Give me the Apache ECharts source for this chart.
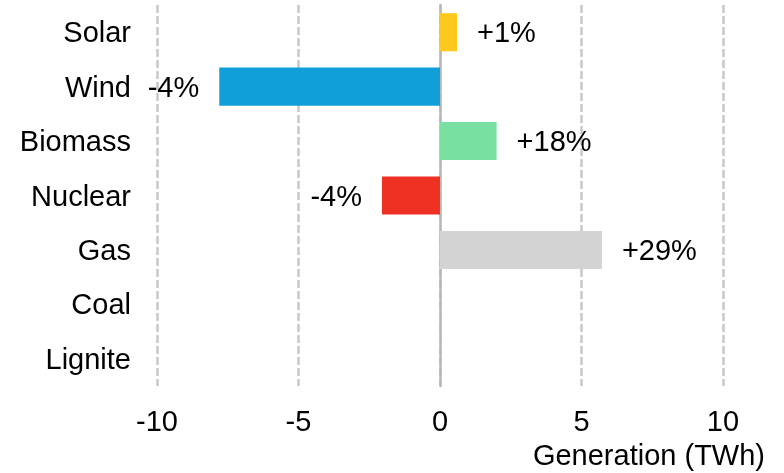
<!DOCTYPE html>
<html>
<head>
<meta charset="utf-8">
<script src="https://cdn.jsdelivr.net/npm/echarts@6/dist/echarts.min.js"></script>
<style>
  html, body { margin: 0; padding: 0; background: #ffffff; }
  #chart { width: 784px; height: 473px; }
</style>
</head>
<body>
<div id="chart"></div>
<script>
// Change in generation by source (TWh) with relative change labels
const categories = ['Solar', 'Wind', 'Biomass', 'Nuclear', 'Gas', 'Coal', 'Lignite'];
const changeTWh = [0.6, -7.8, 2.0, -2.05, 5.72, null, null];
const changePct = ['+1%', '-4%', '+18%', '-4%', '+29%', '', ''];
const barColors = ['#FFC81E', '#119FDA', '#78E0A0', '#EF3124', '#D3D3D3', '#cccccc', '#cccccc'];
const xTicks = [-10, -5, 0, 5, 10];

const font = '"Liberation Sans", Arial, sans-serif';
const fontSize = 29;

const seriesData = categories.map((c, i) => ({
  value: changeTWh[i],
  itemStyle: { color: barColors[i] },
  label: {
    show: changeTWh[i] !== null,
    position: changeTWh[i] < 0 ? 'left' : 'right',
    distance: 20,
    offset: [0, 2],
    formatter: () => changePct[i]
  }
}));

const chart = echarts.init(document.getElementById('chart'), null, { renderer: 'canvas' });
chart.setOption({
  animation: false,
  grid: { left: 157, right: 61, top: 5, bottom: 87, containLabel: false },
  xAxis: {
    type: 'value',
    min: xTicks[0],
    max: xTicks[xTicks.length - 1],
    interval: 5,
    axisLine: { show: false },
    axisTick: { show: false },
    axisLabel: {
      color: '#000', fontFamily: font, fontSize: fontSize, margin: 22,
      formatter: v => (xTicks.includes(v) ? String(v) : '')
    },
    splitLine: {
      show: true,
      lineStyle: { color: '#c8c8c8', width: 2.5, type: [8, 3] }
    },
    name: 'Generation (TWh)',
    nameLocation: 'end',
    nameGap: 0,
    nameTextStyle: {
      color: '#000', fontFamily: font, fontSize: fontSize,
      align: 'right', verticalAlign: 'top', padding: [56, -42, 0, 0]
    }
  },
  yAxis: {
    type: 'category',
    data: categories,
    inverse: true,
    axisLine: { show: true, onZero: true, lineStyle: { color: '#b8b8b8', width: 2.5 } },
    axisTick: { show: false },
    axisLabel: {
      color: '#000', fontFamily: font, fontSize: fontSize, margin: 26,
      verticalAlign: 'top', lineHeight: 4
    },
    splitLine: { show: false }
  },
  series: [{
    type: 'bar',
    data: seriesData,
    barWidth: '70%',
    label: {
      color: '#000', fontFamily: font, fontSize: fontSize
    }
  }]
});
</script>
</body>
</html>
